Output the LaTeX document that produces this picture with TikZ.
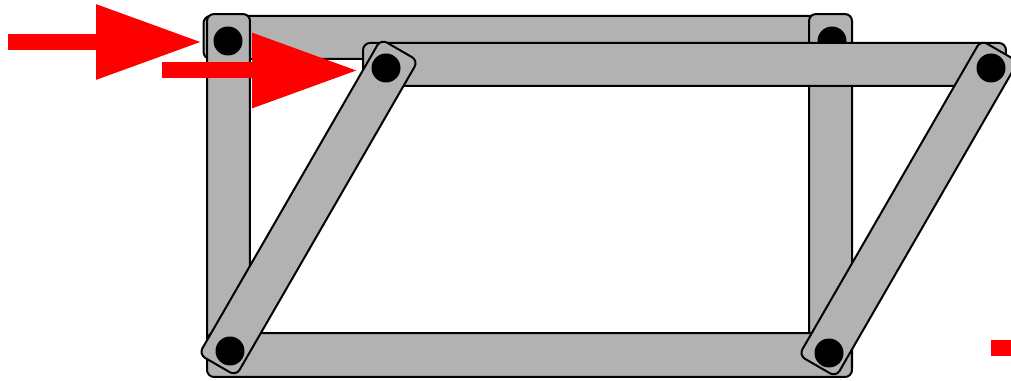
\documentclass[tikz,border=0pt]{standalone}
\usetikzlibrary{arrows.meta}
\begin{document}
\begin{tikzpicture}[x=0.02cm,y=-0.02cm,
    bar/.style={rectangle,draw=black,fill=black!30,line width=0.04cm,rounded corners=0.14cm,
        minimum height=0.86cm,inner sep=0pt},
    joint/.style={circle,fill=black,minimum size=0.58cm,inner sep=0pt},
    force/.style={red,line width=0.32cm,-{Triangle[length=2.12cm,width=1.42cm]}}]
    \useasboundingbox (0,0) rectangle (1011,381);

    \node[bar,minimum width=12.96cm] (top) at (527.5,37.5) {};
    \node[bar,minimum width=7.24cm,rotate=90] (left) at (228.5,195) {};
    \node[bar,minimum width=7.24cm,rotate=90] (right) at (830.5,195) {};
    \node[bar,minimum width=12.9cm,minimum height=0.88cm] (bottom) at (529.5,355) {};
    \node[joint] (ja) at (228,41) {};
    \node[joint] (jb) at (832,41) {};

    \node[bar,minimum width=12.86cm] (upper) at (684.5,64.5) {};
    \node[bar,minimum width=7.28cm,rotate=60] (linkl) at (308.5,207.5) {};
    \node[bar,minimum width=7.28cm,rotate=60] (linkr) at (908.5,208.5) {};
    \node[joint] (je) at (386,68) {};
    \node[joint] (jf) at (991,68) {};
    \node[joint] (jc) at (230,351) {};
    \node[joint] (jd) at (829,353) {};

    \coordinate (s1) at (8,42); \coordinate (t1) at (202,42);
    \coordinate (s2) at (162,70.5); \coordinate (t2) at (358,70.5);
    \draw[force] (s1) -- (t1);
    \draw[force] (s2) -- (t2);
    \node[rectangle,fill=red,minimum width=0.4cm,minimum height=0.32cm,inner sep=0pt] (tail) at (1001,348) {};
\end{tikzpicture}
\end{document}
